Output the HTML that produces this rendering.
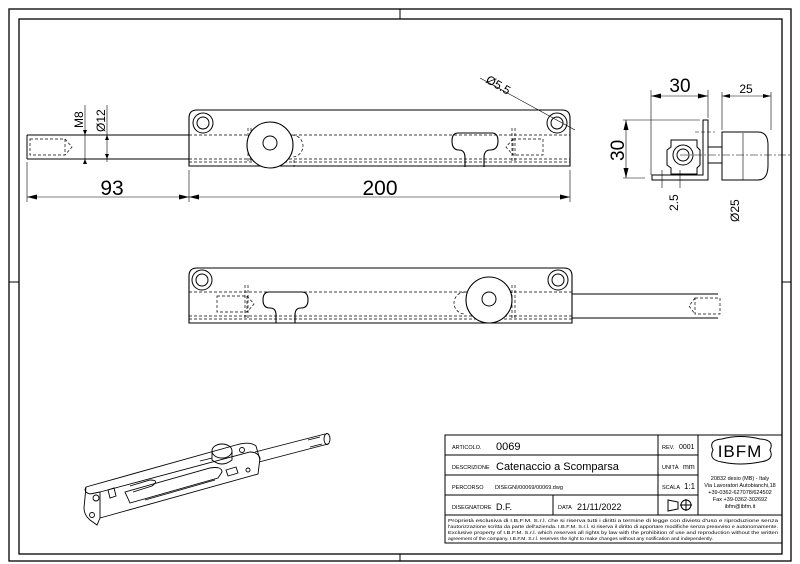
<!DOCTYPE html>
<html><head><meta charset="utf-8"><style>
html,body{margin:0;padding:0;background:#fff}
svg{display:block}
text{font-family:"Liberation Sans",sans-serif;fill:#000}
</style></head><body>
<svg width="800" height="564" viewBox="0 0 800 564" xmlns="http://www.w3.org/2000/svg">
<g fill="none" stroke="#000">
<rect x="9" y="9" width="782" height="552" stroke-width="1.3"/>
<rect x="19" y="19" width="763" height="535" stroke-width="1.3"/>
<line x1="400" y1="9" x2="400" y2="19"/><line x1="400" y1="554" x2="400" y2="561"/>
<line x1="9" y1="282" x2="19" y2="282"/><line x1="782" y1="282" x2="791" y2="282"/>

<!-- TOP VIEW -->
<path d="M189 166 V118 Q189 110 197 110 H562 Q570 110 570 118 V166 Z" stroke-width="1.1"/>
<circle cx="203" cy="123" r="10"/><circle cx="203" cy="123" r="6"/>
<circle cx="557" cy="123" r="10"/><circle cx="557" cy="123" r="6"/>
<line x1="27" y1="135" x2="189" y2="135"/><line x1="27" y1="159" x2="189" y2="159"/>
<line x1="27" y1="135" x2="27" y2="159"/>
<g stroke-dasharray="3 2" stroke-width="0.7">
<line x1="189" y1="135" x2="570" y2="135"/><line x1="189" y1="159" x2="570" y2="159"/><line x1="189" y1="162" x2="570" y2="162"/>
<rect x="30" y="139" width="35" height="16"/><path d="M65 139 L72 147 L65 155"/>
<rect x="513" y="139" width="30" height="16"/><path d="M513 139 L506 147 L513 155"/>
<line x1="248" y1="128" x2="248" y2="162"/><line x1="251" y1="128" x2="251" y2="162"/>
<line x1="512" y1="128" x2="512" y2="162"/><line x1="515" y1="128" x2="515" y2="162"/>
<path d="M292 135 A11 11 0 0 1 292 157"/>
<line x1="294" y1="160" x2="294" y2="167"/>
</g>
<circle cx="270" cy="145" r="23" fill="#fff" stroke-width="1.1"/>
<circle cx="270" cy="143" r="7"/>
<path d="M458 133 H492 Q498 133 498 141 Q498 150 490 150 Q484 150 484 158 V167 M465 167 V158 Q465 150 459 150 Q452 150 452 141 Q452 133 458 133" stroke-width="1.1"/>
<g stroke-width="0.6">
<line x1="27" y1="162" x2="27" y2="202"/><line x1="189" y1="170" x2="189" y2="202"/><line x1="570" y1="170" x2="570" y2="202"/>
<line x1="27" y1="197" x2="189" y2="197"/><line x1="189" y1="197" x2="570" y2="197"/>
<line x1="85" y1="105" x2="85" y2="162"/><line x1="107" y1="105" x2="107" y2="162"/>
<line x1="480" y1="78" x2="575" y2="130"/>
</g>
</g>
<g fill="#000">
<path d="M27 197 l10 -2.5 v5z"/><path d="M189 197 l-10 -2.5 v5z"/><path d="M189 197 l10 -2.5 v5z"/><path d="M570 197 l-10 -2.5 v5z"/>
<path d="M85 135 l-2 -5 h4z"/><path d="M85 159 l-2 5 h4z"/><path d="M107 135 l-2 5 h4z"/><path d="M107 159 l-2 -5 h4z"/>
</g>
<text x="112" y="195" font-size="21" text-anchor="middle">93</text>
<text x="380" y="195" font-size="21" text-anchor="middle">200</text>
<text transform="translate(83,128) rotate(-90)" font-size="12">M8</text>
<text transform="translate(105,132) rotate(-90)" font-size="12">Ø12</text>
<text transform="translate(485,82) rotate(30)" font-size="12">Ø5.5</text>

<!-- SIDE VIEW -->
<g fill="none" stroke="#000">
<path d="M703 120 H708 V180 H652 V175 H703 Z" stroke-width="1"/>
<path d="M671 140 H697 V147 L700 150 V165 L697 168 V174 H671 V168 L667 165 V150 L671 147 Z"/>
<circle cx="683" cy="155" r="10"/><circle cx="683" cy="155" r="6"/>
<path d="M722 132 H758 Q768 132 768 145 V165 Q768 180 758 180 H722 Z"/>
<line x1="708" y1="147" x2="722" y2="147"/><line x1="708" y1="163" x2="722" y2="163"/>
<g stroke-width="0.6">
<line x1="680" y1="155" x2="790" y2="155" stroke-dasharray="8 2 2 2"/>
<line x1="695" y1="132" x2="715" y2="132" stroke-dasharray="4 2"/>
<line x1="651" y1="90" x2="651" y2="175"/><line x1="708" y1="90" x2="708" y2="118"/>
<line x1="651" y1="96" x2="708" y2="96"/>
<line x1="722" y1="92" x2="722" y2="130"/><line x1="771" y1="92" x2="771" y2="130"/>
<line x1="722" y1="96" x2="771" y2="96"/>
<line x1="623" y1="120" x2="700" y2="120"/><line x1="623" y1="178" x2="645" y2="178"/>
<line x1="626" y1="120" x2="626" y2="178"/>
<line x1="662" y1="170" x2="662" y2="188"/><line x1="680" y1="170" x2="680" y2="188"/>
<line x1="743" y1="133" x2="743" y2="180"/>
</g>
</g>
<g fill="#000">
<path d="M651 96 l10 -2.5 v5z"/><path d="M708 96 l-10 -2.5 v5z"/>
<path d="M722 96 l8 -2 v4z"/><path d="M771 96 l-8 -2 v4z"/>
<path d="M626 120 l-2.5 10 h5z"/><path d="M626 178 l-2.5 -10 h5z"/>
</g>
<text x="680" y="92" font-size="19" text-anchor="middle">30</text>
<text x="746" y="93" font-size="12" text-anchor="middle">25</text>
<text transform="translate(624,161) rotate(-90)" font-size="19">30</text>
<text transform="translate(678,211) rotate(-90)" font-size="12">2.5</text>
<text transform="translate(739,222) rotate(-90)" font-size="12">Ø25</text>

<!-- BOTTOM VIEW -->
<g fill="none" stroke="#000">
<path d="M189 323 V276 Q189 268 197 268 H564 Q572 268 572 276 V323 Z" stroke-width="1.1"/>
<circle cx="202" cy="280" r="10"/><circle cx="202" cy="280" r="6"/>
<circle cx="558" cy="280" r="10"/><circle cx="558" cy="280" r="6"/>
<line x1="572" y1="294" x2="718" y2="294"/><line x1="572" y1="318" x2="718" y2="318"/>
<g stroke-dasharray="3 2" stroke-width="0.7">
<line x1="189" y1="292" x2="572" y2="292"/><line x1="189" y1="316" x2="572" y2="316"/><line x1="189" y1="319" x2="572" y2="319"/>
<rect x="217" y="296" width="30" height="16"/><path d="M247 296 L254 304 L247 312"/>
<rect x="695" y="298" width="25" height="16"/><path d="M695 298 L689 306 L695 314"/>
<line x1="245" y1="285" x2="245" y2="319"/><line x1="248" y1="285" x2="248" y2="319"/>
<line x1="512" y1="285" x2="512" y2="319"/><line x1="515" y1="285" x2="515" y2="319"/>
<path d="M465 292 A11 11 0 0 0 465 314"/>
</g>
<circle cx="489" cy="300" r="23" fill="#fff" stroke-width="1.1"/>
<circle cx="489" cy="299" r="7"/>
<path d="M269 292 H302 Q308 292 308 300 Q308 308 301 308 Q295 308 295 315 V323 M276 323 V315 Q276 308 270 308 Q263 308 263 300 Q263 292 269 292" stroke-width="1.1"/>
</g>

<!-- ISO VIEW -->
<g fill="none" stroke="#000" stroke-width="0.9">
<!-- rod -->
<path d="M255 452 L325 434 M259 462 L328 444"/>
<ellipse cx="327" cy="439" rx="3" ry="5.5"/>
<path d="M308 440 L320 437 M310 447 L322 444"/>
<!-- plate top face -->
<path d="M86 487 L236 445 Q250 441 256 446 L260 460"/>
<path d="M86 487 Q83 492 90 494 L100 492"/>
<!-- plate front edge -->
<path d="M100 492 L250 452 Q258 452 260 458 L258 474 L100 518"/>
<path d="M100 492 L100 518"/>
<!-- flange -->
<path d="M86 487 L84 508 Q84 515 90 520 L97 525 L100 518"/>
<circle cx="96" cy="498" r="3"/><circle cx="92" cy="515" r="2.5"/>
<circle cx="242" cy="450" r="2.5"/><circle cx="248" cy="470" r="2"/>
<!-- slot -->
<path d="M125 492 L210 468 Q222 466 222 472 L218 478 L130 503 Z"/>
<path d="M130 486 L150 480 Q160 480 152 486 L133 492"/>
<path d="M145 500 L215 480"/>
<path d="M200 461 L212 458"/>
<!-- knob -->
<ellipse cx="222" cy="451" rx="10" ry="7"/>
<path d="M212 451 V460 Q222 468 232 460 V451"/>
<path d="M108 490 l6 -2 l2 8 l-6 2 z"/>
<path d="M226 470 l10 -3 l2 6 l-10 3 z"/>
</g>

<!-- TITLE BLOCK -->
<g fill="none" stroke="#000" stroke-width="1">
<rect x="445" y="435" width="337" height="108"/>
<line x1="445" y1="455" x2="698" y2="455"/>
<line x1="445" y1="475" x2="698" y2="475"/>
<line x1="445" y1="495" x2="698" y2="495"/>
<line x1="445" y1="515" x2="782" y2="515"/>
<line x1="658" y1="435" x2="658" y2="515"/>
<line x1="698" y1="435" x2="698" y2="515"/>
<line x1="553" y1="495" x2="553" y2="515"/>
<path d="M713 450 Q708 440 722 439 Q740 434 760 439 Q775 440 770 450 Q775 460 760 462 Q740 466 722 462 Q708 460 713 450 Z"/>
<path d="M668 500 L678 502 V509 L668 511 Z"/><circle cx="686" cy="505" r="5"/><line x1="680" y1="505" x2="692" y2="505"/><line x1="686" y1="499" x2="686" y2="511"/>
</g>
<text x="740" y="457" font-size="17" text-anchor="middle" font-family="Liberation Serif" letter-spacing="1">IBFM</text>
<g font-size="5.5">
<text x="452" y="449">ARTICOLO.</text>
<text x="452" y="469">DESCRIZIONE</text>
<text x="452" y="489">PERCORSO</text>
<text x="452" y="509">DISEGNATORE</text>
<text x="558" y="509">DATA</text>
<text x="662" y="449">REV.</text>
<text x="662" y="469">UNITÀ</text>
<text x="662" y="489">SCALA</text>
<text x="495" y="489">DISEGNI/00069/00069.dwg</text>
</g>
<text x="496" y="450" font-size="11">0069</text>
<text x="496" y="470" font-size="11">Catenaccio a Scomparsa</text>
<text x="496" y="510" font-size="9">D.F.</text>
<text x="577" y="510" font-size="9">21/11/2022</text>
<text x="679" y="449" font-size="7">0001</text>
<text x="683" y="469" font-size="7">mm</text>
<text x="684" y="489" font-size="8">1:1</text>
<g font-size="5.5" text-anchor="middle">
<text x="740" y="480">20832 desio (MB) - Italy</text>
<text x="740" y="487">Via Lavoratori Autobianchi,18</text>
<text x="740" y="494">+39-0362-627078/624502</text>
<text x="740" y="501">Fax +39-0362-302692</text>
<text x="740" y="508">ibfm@ibfm.it</text>
</g>
<g font-size="4.6">
<text x="448" y="522" textLength="330" lengthAdjust="spacingAndGlyphs">Proprietà esclusiva di I.B.F.M. S.r.l. che si riserva tutti i diritti a termine di legge con divieto d'uso e riproduzione senza</text>
<text x="448" y="528" textLength="330" lengthAdjust="spacingAndGlyphs">l'autorizzazione scritta da parte dell'azienda. I.B.F.M. S.r.l. si riserva il diritto di apportare modifiche senza preavviso e autonomamente.</text>
<text x="448" y="534" textLength="330" lengthAdjust="spacingAndGlyphs">Exclusive property of I.B.F.M. S.r.l. which reserves all rights by law with the prohibition of use and reproduction without the written</text>
<text x="448" y="540" textLength="265" lengthAdjust="spacingAndGlyphs">agreement of the company. I.B.F.M. S.r.l. reserves the right to make changes without any notification and independently.</text>
</g>
</svg>
</body></html>
